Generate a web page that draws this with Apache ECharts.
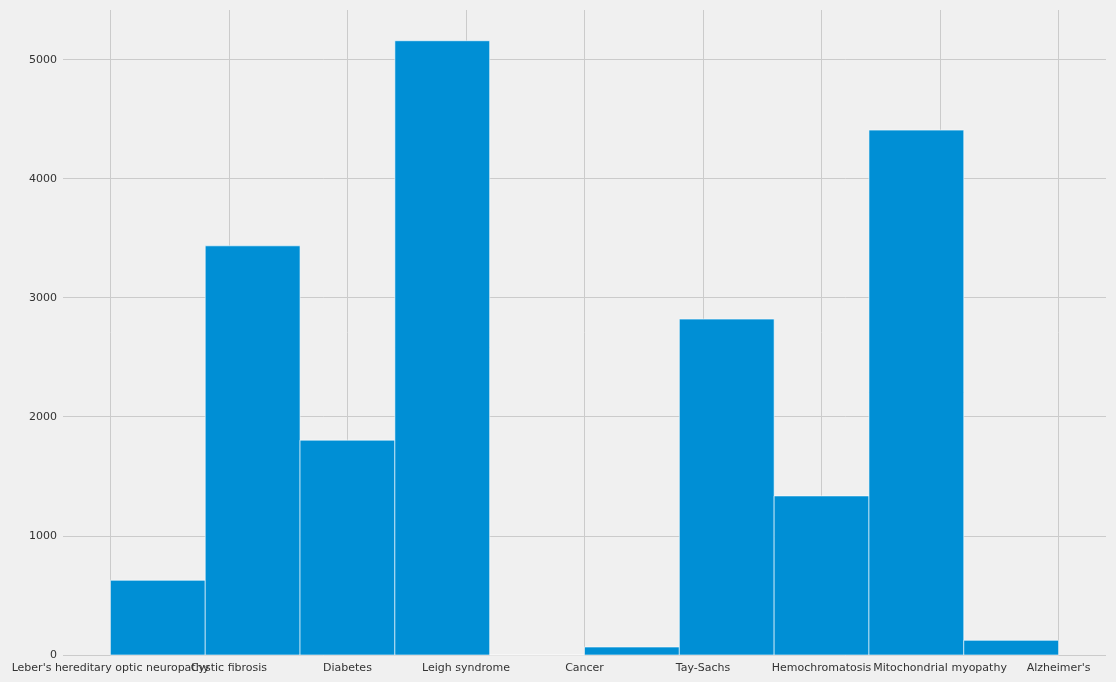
<!DOCTYPE html>
<html>
<head>
<meta charset="utf-8">
<script src="https://cdn.jsdelivr.net/npm/echarts@6/dist/echarts.min.js"></script>
<style>
html,body{margin:0;padding:0;background:#f0f0f0;}
#chart{width:1116px;height:682px;}
</style>
</head>
<body>
<div id="chart"></div>
<script>
// Categories plotted at positions 0..8
var categories = ["Leber's hereditary optic neuropathy", "Cystic fibrosis", "Diabetes", "Leigh syndrome", "Cancer", "Tay-Sachs", "Hemochromatosis", "Mitochondrial myopathy", "Alzheimer's"];
// Count per category
var counts = [627, 3434, 1803, 5155, 67, 2819, 1335, 4405, 123];
// Histogram: 10 bins over [0, 8]
var binCount = 10;
var yTicks = [0, 1000, 2000, 3000, 4000, 5000];

var lo = 0, hi = categories.length - 1;
var w = (hi - lo) / binCount;
var bins = [];
for (var b = 0; b < binCount; b++) bins.push(0);
categories.forEach(function (c, i) {
  var k = Math.floor((i - lo) / w + 1e-9);
  if (k >= binCount) k = binCount - 1;
  bins[k] += counts[i];
});
var histData = bins.map(function (v, k) { return [lo + k * w, lo + (k + 1) * w, v]; });
var posValues = categories.map(function (c, i) { return i; });
// labels split over two coincident axes so overlapping labels both show (as in the reference)
var posA = posValues.filter(function (v) { return v % 2 === 1; });
var posB = posValues.filter(function (v) { return v % 2 === 0; });

function xAxisDef(vals) {
  return {
    type: 'value', min: -0.4, max: 8.4, position: 'bottom', offset: 0,
    axisLine: {show: false},
    axisTick: {show: false, customValues: vals},
    splitLine: {show: false},
    axisLabel: {
      customValues: vals,
      interval: 0,
      hideOverlap: false,
      showMinLabel: true,
      showMaxLabel: true,
      color: '#333', fontFamily: 'DejaVu Sans', fontSize: 11, margin: 8,
      formatter: function (v) { return categories[Math.round(v)]; }
    }
  };
}

var chart = echarts.init(document.getElementById('chart'), null, {renderer: 'canvas'});
chart.setOption({
  backgroundColor: '#f0f0f0',
  animation: false,
  grid: {left: 63, right: 10, top: 10, bottom: 27},
  xAxis: [xAxisDef(posB), xAxisDef(posA)],
  yAxis: {
    type: 'value', min: 0, max: 5413,
    axisLine: {show: false},
    axisTick: {show: false, customValues: yTicks},
    axisLabel: {
      customValues: yTicks, showMinLabel: true, showMaxLabel: true,
      color: '#333', fontFamily: 'DejaVu Sans', fontSize: 11, margin: 6,
      verticalAlign: 'top', padding: [-5, 0, 0, 0],
      formatter: function (v) { return String(v); }
    },
    splitLine: {show: false}
  },
  series: [
    {
      type: 'line', data: [], silent: true, z: 0, xAxisIndex: 0,
      markLine: {
        silent: true, symbol: 'none', animation: false, z: 0,
        label: {show: false},
        lineStyle: {color: '#cbcbcb', width: 1, type: 'solid'},
        data: posValues.map(function (v) { return {xAxis: v}; }).concat(yTicks.map(function (v) { return {yAxis: v}; }))
      }
    },
    {
      type: 'custom', z: 5, xAxisIndex: 0,
      data: histData,
      encode: {x: [0, 1], y: 2},
      renderItem: function (params, api) {
        var p0 = api.coord([api.value(0), api.value(2)]);
        var p1 = api.coord([api.value(1), 0]);
        return {
          type: 'rect',
          shape: {x: p0[0], y: p0[1], width: p1[0] - p0[0], height: p1[1] - p0[1]},
          style: {fill: '#008fd5', stroke: '#ffffff', lineWidth: 0.6}
        };
      }
    }
  ]
});
</script>
</body>
</html>
